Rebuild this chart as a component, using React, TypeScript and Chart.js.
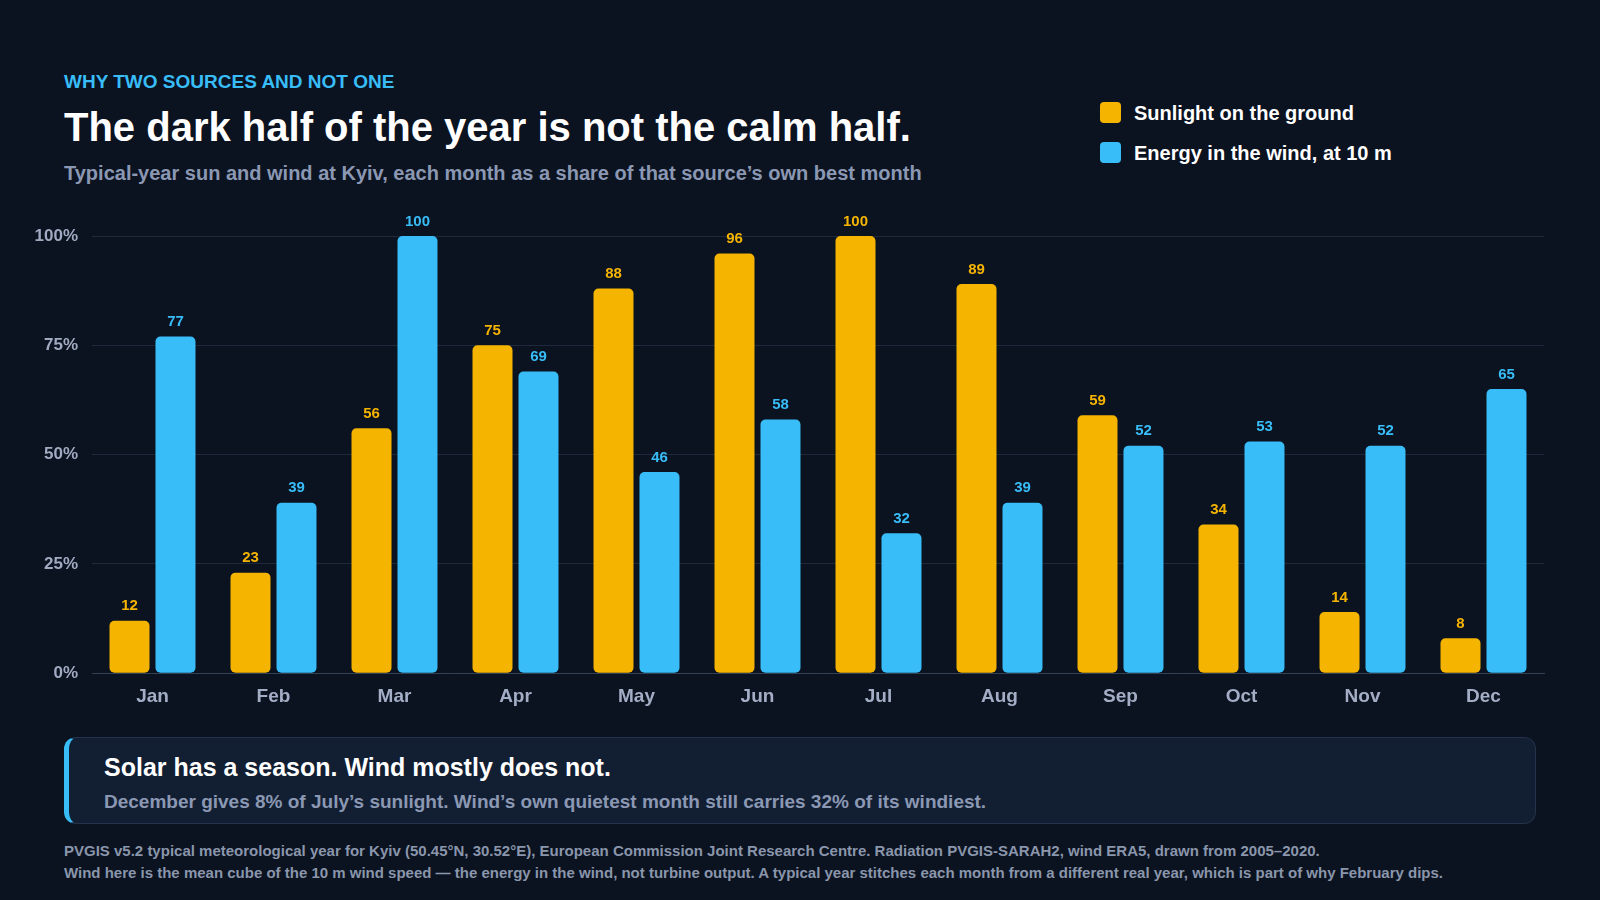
import React, { useEffect, useRef } from "react";
import { Chart, registerables } from "chart.js";

Chart.register(...registerables);

const months = ["Jan", "Feb", "Mar", "Apr", "May", "Jun", "Jul", "Aug", "Sep", "Oct", "Nov", "Dec"];
const sunlight = [12, 23, 56, 75, 88, 96, 100, 89, 59, 34, 14, 8];
const wind = [77, 39, 100, 69, 46, 58, 32, 39, 52, 53, 52, 65];
const yTicks = [0, 25, 50, 75, 100];
const seriesNames = ["Sunlight on the ground", "Energy in the wind, at 10 m"];

const SUN = "#f5b400";
const SKY = "#38bdf8";
const BG = "#0b1220";
const FONT = "'Liberation Sans', Arial, Helvetica, sans-serif";

const valueLabels = {
  id: "valueLabels",
  afterDatasetsDraw(chart: any) {
    const ctx = chart.ctx;
    ctx.save();
    ctx.font = `bold 15px ${FONT}`;
    ctx.textAlign = "center";
    ctx.textBaseline = "bottom";
    chart.data.datasets.forEach((ds: any, i: number) => {
      const meta = chart.getDatasetMeta(i);
      ctx.fillStyle = ds.backgroundColor;
      meta.data.forEach((bar: any, j: number) => {
        ctx.fillText(String(ds.data[j]), bar.x, bar.y - 7);
      });
    });
    ctx.restore();
  },
};

function BarChart() {
  const ref = useRef<HTMLCanvasElement | null>(null);
  useEffect(() => {
    if (!ref.current) return;
    const chart = new Chart(ref.current, {
      type: "bar",
      data: {
        labels: months,
        datasets: [
          {
            label: seriesNames[0],
            data: sunlight,
            backgroundColor: SUN,
            borderRadius: 5,
            borderSkipped: false,
            barPercentage: 0.87,
            categoryPercentage: 0.76,
          },
          {
            label: seriesNames[1],
            data: wind,
            backgroundColor: SKY,
            borderRadius: 5,
            borderSkipped: false,
            barPercentage: 0.87,
            categoryPercentage: 0.76,
          },
        ],
      },
      options: {
        animation: false,
        responsive: false,
        maintainAspectRatio: false,
        layout: { padding: { left: 0, right: 16, top: 36, bottom: 0 } },
        plugins: {
          legend: { display: false },
          tooltip: { enabled: false },
        },
        scales: {
          x: {
            grid: { display: false, drawTicks: false },
            border: { display: true, color: "#334155", width: 1 },
            ticks: {
              color: "#a3aec6",
              font: { family: FONT, size: 19, weight: "bold" },
              padding: 12,
            },
          },
          y: {
            min: 0,
            max: 100,
            afterFit: (scale: any) => {
              scale.width = 92;
            },
            afterBuildTicks: (scale: any) => {
              scale.ticks = yTicks.map((v) => ({ value: v }));
            },
            grid: { color: "#1e293b", drawTicks: false, lineWidth: 1 },
            border: { display: false },
            ticks: {
              color: "#a0abc2",
              font: { family: FONT, size: 17, weight: "bold" },
              padding: 14,
              callback: (v: any) => `${v}%`,
            },
          },
        },
      },
      plugins: [valueLabels],
    });
    return () => chart.destroy();
  }, []);
  return (
    <canvas
      ref={ref}
      width={1560}
      height={520}
      style={{ position: "absolute", left: 0, top: 200, width: 1560, height: 520 }}
    />
  );
}

export default function App() {
  const abs = (o: React.CSSProperties): React.CSSProperties => ({ position: "absolute", whiteSpace: "nowrap", ...o });
  return (
    <div
      style={{
        position: "absolute",
        left: 0,
        top: 0,
        width: 1600,
        height: 900,
        background: BG,
        fontFamily: FONT,
        overflow: "hidden",
      }}
    >
      <div style={abs({ left: 64, top: 70, fontSize: 19, lineHeight: "24px", fontWeight: 700, color: SKY })}>
        WHY TWO SOURCES AND NOT ONE
      </div>
      <div style={abs({ left: 64, top: 103, fontSize: 40, lineHeight: "48px", fontWeight: 700, color: "#ffffff" })}>
        The dark half of the year is not the calm half.
      </div>
      <div style={abs({ left: 64, top: 161, fontSize: 20, lineHeight: "24px", fontWeight: 700, color: "#8b98b3" })}>
        Typical-year sun and wind at Kyiv, each month as a share of that source’s own best month
      </div>

      {[SUN, SKY].map((c, i) => (
        <React.Fragment key={i}>
          <div
            style={abs({ left: 1100, top: 102 + i * 40, width: 21, height: 21, borderRadius: 4, background: c })}
          />
          <div
            style={abs({
              left: 1134,
              top: 101 + i * 40,
              fontSize: 20,
              lineHeight: "24px",
              fontWeight: 700,
              color: "#ffffff",
            })}
          >
            {seriesNames[i]}
          </div>
        </React.Fragment>
      ))}

      <BarChart />

      <div
        style={abs({
          left: 64,
          top: 737,
          width: 1472,
          height: 87,
          boxSizing: "border-box",
          background: "#121e32",
          border: "1px solid #24324b",
          borderLeft: `5px solid ${SKY}`,
          borderRadius: 12,
        })}
      />
      <div style={abs({ left: 104, top: 752, fontSize: 25, lineHeight: "30px", fontWeight: 700, color: "#ffffff" })}>
        Solar has a season. Wind mostly does not.
      </div>
      <div style={abs({ left: 104, top: 790, fontSize: 19, lineHeight: "24px", fontWeight: 700, color: "#8b98b3" })}>
        December gives 8% of July’s sunlight. Wind’s own quietest month still carries 32% of its windiest.
      </div>

      <div style={abs({ left: 64, top: 842, fontSize: 15, lineHeight: "18px", fontWeight: 700, color: "#8a96ab" })}>
        PVGIS v5.2 typical meteorological year for Kyiv (50.45°N, 30.52°E), European Commission Joint Research Centre. Radiation PVGIS-SARAH2, wind ERA5, drawn from 2005–2020.
      </div>
      <div style={abs({ left: 64, top: 864, fontSize: 15, lineHeight: "18px", fontWeight: 700, color: "#8a96ab" })}>
        Wind here is the mean cube of the 10 m wind speed — the energy in the wind, not turbine output. A typical year stitches each month from a different real year, which is part of why February dips.
      </div>
    </div>
  );
}
